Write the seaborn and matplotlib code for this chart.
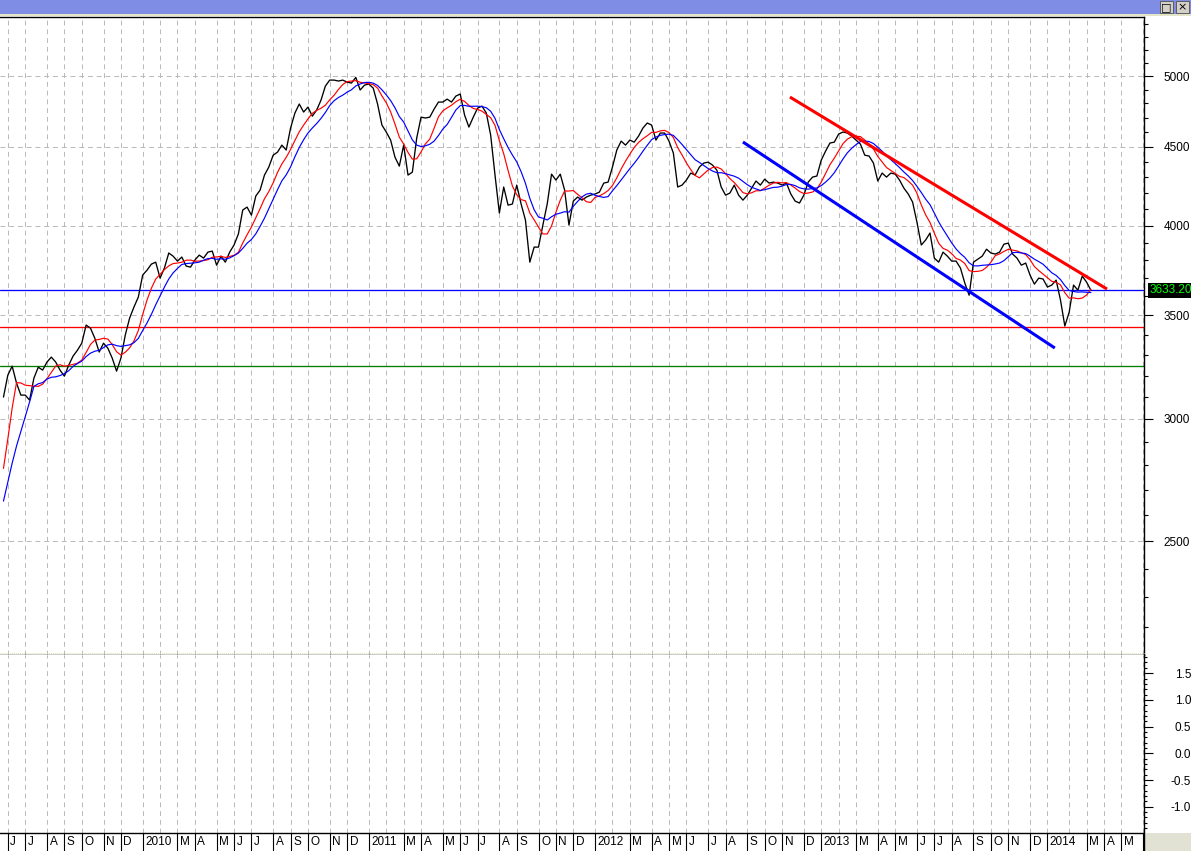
import numpy as np
import pandas as pd
import matplotlib
matplotlib.use("Agg")
import matplotlib.pyplot as plt
import matplotlib.transforms as mtransforms
from matplotlib.patches import Rectangle
from matplotlib.lines import Line2D
from matplotlib.ticker import FixedLocator, FixedFormatter, NullFormatter, MultipleLocator
import seaborn as sns

# ------------------------------------------------------------------ data
start_date = "2009-05-29"          # first weekly bar (Friday)
holiday_bars = ["2010-01-01"]      # bar dated on previous trading day

closes = [
    3099, 3202, 3245, 3164, 3108, 3108, 3085, 3188, 3240, 3226,
    3265, 3289, 3265, 3226, 3197, 3250, 3294, 3323, 3358, 3450,
    3434, 3383, 3314, 3358, 3333, 3284, 3221, 3284, 3399, 3486,
    3544, 3597, 3717, 3744, 3778, 3789, 3700, 3756, 3841, 3823,
    3795, 3818, 3767, 3761, 3801, 3829, 3812, 3846, 3852, 3772,
    3823, 3789, 3846, 3887, 3951, 4095, 4113, 4064, 4181, 4219,
    4314, 4366, 4444, 4464, 4511, 4478, 4627, 4732, 4796, 4739,
    4774, 4710, 4753, 4824, 4926, 4970, 4970, 4963, 4970, 4955,
    4948, 4990, 4897, 4933, 4941, 4911, 4796, 4648, 4600, 4545,
    4431, 4372, 4511, 4314, 4333, 4559, 4703, 4697, 4703, 4760,
    4810, 4810, 4831, 4810, 4853, 4868, 4718, 4634, 4703, 4767,
    4781, 4732, 4579, 4314, 4077, 4238, 4125, 4132, 4250, 4132,
    4034, 3789, 3875, 3875, 4004, 4132, 4320, 4282, 4320, 4219,
    4004, 4150, 4175, 4156, 4175, 4187, 4194, 4206, 4263, 4269,
    4366, 4478, 4538, 4511, 4545, 4531, 4572, 4627, 4662, 4648,
    4545, 4593, 4593, 4538, 4458, 4238, 4250, 4282, 4327, 4314,
    4366, 4392, 4398, 4379, 4346, 4238, 4187, 4200, 4250, 4187,
    4156, 4187, 4231, 4276, 4250, 4288, 4263, 4269, 4263, 4250,
    4263, 4194, 4150, 4138, 4187, 4269, 4301, 4308, 4411, 4471,
    4525, 4531, 4586, 4600, 4593, 4572, 4545, 4518, 4444, 4438,
    4392, 4276, 4327, 4301, 4327, 4320, 4282, 4231, 4194, 4144,
    4022, 3887, 3916, 3957, 3812, 3789, 3846, 3823, 3795, 3795,
    3756, 3673, 3607, 3789, 3806, 3823, 3863, 3841, 3835, 3846,
    3892, 3898, 3835, 3812, 3772, 3784, 3717, 3667, 3700, 3695,
    3651, 3662, 3689, 3581, 3445, 3517, 3662, 3634, 3711, 3678,
    3633.2,
]
# closes of the weeks just before the visible window (they feed the averages)
prior_closes = [2430, 2470, 2440, 2480, 2450, 2420, 2460, 3120, 3170]
fast_ma_weeks = 6
slow_ma_weeks = 10

last_price = 3633.20
level_values = [3633.20, 3442, 3248]
level_colors = ["#0000FF", "#FF0000", "#008000"]

upper_trend_weeks = [180.8, 253.7]
upper_trend_values = [4846, 3640]
lower_trend_weeks = [170.0, 241.7]
lower_trend_values = [4532, 3334]

main_ticks = [2500, 3000, 3500, 4000, 4500, 5000]
main_tick_labels = ["2500", "3000", "3500", "4000", "4500", "5000"]
low_ticks = [-1.0, -0.5, 0.0, 0.5, 1.0, 1.5]
low_tick_labels = ["-1.0", "-0.5", "0.0", "0.5", "1.0", "1.5"]
month_initials = ["J", "F", "M", "A", "M", "J", "J", "A", "S", "O", "N", "D"]

# ------------------------------------------------------------ derived
n = len(closes)
weeks = np.arange(n)
full = pd.Series(prior_closes + closes, dtype=float)
fast = full.rolling(fast_ma_weeks).mean().iloc[len(prior_closes):].to_numpy()
slow = full.rolling(slow_ma_weeks).mean().iloc[len(prior_closes):].to_numpy()
df = pd.DataFrame({"week": weeks, "close": closes, "fast": fast, "slow": slow})

n_axis = 263
axis_dates = pd.date_range(start_date, periods=n_axis, freq="W-FRI")
hol = set(pd.to_datetime(holiday_bars))
bar_dates = pd.DatetimeIndex([d - pd.Timedelta(days=1) if d in hol else d for d in axis_dates])
mkey = bar_dates.year * 12 + bar_dates.month
month_starts = [i for i in range(1, n_axis) if mkey[i] != mkey[i - 1]]
label_pos, label_txt = [], []
for i in month_starts:
    m = bar_dates[i].month
    if m == 2:
        continue
    label_pos.append(i)
    label_txt.append(str(bar_dates[i].year) if m == 1 else month_initials[m - 1])

# ------------------------------------------------------------ styling
sns.set_style("white")
plt.rcParams["font.family"] = ["Liberation Sans", "DejaVu Sans"]

W, H = 1191, 851
fig = plt.figure(figsize=(W / 100, H / 100), dpi=100, facecolor="white")


def fy(p):
    return 1 - p / H


ax = fig.add_axes([0, fy(655), 1144 / W, (655 - 17) / H])
axl = fig.add_axes([0, fy(833), 1144 / W, (833 - 655) / H])
for a in (ax, axl):
    a.set_facecolor("white")

XMIN, XMAX = -0.8, 262.2
grid_kw = dict(color="#B8B8B8", linestyle=(0, (5, 4)), linewidth=0.7)

# ---------------------------------------------------------- main panel
ax.set_yscale("log")
for i in month_starts:
    ax.axvline(i, zorder=0.5, **grid_kw)
    axl.axvline(i, zorder=0.5, **grid_kw)

for v, c in zip(level_values, level_colors):
    ax.axhline(v, color=c, linewidth=0.95, zorder=2)

sns.lineplot(data=df, x="week", y="close", ax=ax, color="black", linewidth=0.95, zorder=4, legend=False)
sns.lineplot(data=df, x="week", y="fast", ax=ax, color="#FF0000", linewidth=0.85, zorder=5, legend=False)
sns.lineplot(data=df, x="week", y="slow", ax=ax, color="#0000FF", linewidth=0.85, zorder=5, legend=False)

ax.plot(upper_trend_weeks, upper_trend_values, color="#FF0000", linewidth=2.2, zorder=6, solid_capstyle="butt")
ax.plot(lower_trend_weeks, lower_trend_values, color="#0000FF", linewidth=2.2, zorder=6, solid_capstyle="butt")

ax.set_xlim(XMIN, XMAX)
ax.set_ylim(2110, 5460)
ax.set_xlabel("")
ax.set_ylabel("")

ax.yaxis.tick_right()
ax.yaxis.set_major_locator(FixedLocator(main_ticks))
ax.yaxis.set_major_formatter(FixedFormatter(main_tick_labels))
ax.yaxis.set_minor_locator(MultipleLocator(100))
ax.yaxis.set_minor_formatter(NullFormatter())
ax.tick_params(axis="y", which="major", direction="out", length=6.5, width=0.8,
               labelsize=8.5, pad=7.5, colors="black", right=True, left=False)
ax.tick_params(axis="y", which="minor", direction="out", length=3.0, width=0.8,
               colors="black", right=True, left=False)
ax.tick_params(axis="x", which="both", bottom=False, top=False, labelbottom=False)
ax.yaxis.grid(True, which="major", **grid_kw)
ax.xaxis.grid(False)
ax.set_axisbelow(True)

for s in ("top", "bottom", "right"):
    ax.spines[s].set_color("black")
    ax.spines[s].set_linewidth(1.0)
    ax.spines[s].set_visible(True)
ax.spines["left"].set_visible(False)

tag_tr = mtransforms.blended_transform_factory(ax.transAxes, ax.transData)
ax.text(1.0 + 6 / 1144, last_price, f"{last_price:.2f}", transform=tag_tr,
        ha="left", va="center", color="#00FF00", fontsize=8.5,
        bbox=dict(boxstyle="square,pad=0.15", fc="black", ec="none"),
        clip_on=False, zorder=20)

# --------------------------------------------------------- lower panel
axl.set_xlim(XMIN, XMAX)
axl.set_ylim(-1.49, 1.84)
axl.yaxis.tick_right()
axl.yaxis.set_major_locator(FixedLocator(low_ticks))
axl.yaxis.set_major_formatter(FixedFormatter(low_tick_labels))
axl.yaxis.set_minor_locator(MultipleLocator(0.1))
axl.yaxis.set_minor_formatter(NullFormatter())
axl.tick_params(axis="y", which="major", direction="out", length=6.5, width=0.8,
                labelsize=8.5, pad=27.5, colors="black", right=True, left=False)
axl.tick_params(axis="y", which="minor", direction="out", length=2.5, width=0.8,
                colors="black", right=True, left=False)
for lab in axl.get_yticklabels():
    lab.set_horizontalalignment("right")

axl.set_xticks(label_pos)
axl.set_xticklabels([""] * len(label_pos))
axl.tick_params(axis="x", which="major", direction="out", length=13, width=0.8,
                bottom=True, top=False, labelbottom=False, colors="black")
axl.grid(False)
for s in ("bottom", "right"):
    axl.spines[s].set_color("black")
    axl.spines[s].set_linewidth(1.0)
    axl.spines[s].set_visible(True)
axl.spines["left"].set_visible(False)
axl.spines["top"].set_visible(False)

lbl_tr = mtransforms.offset_copy(
    mtransforms.blended_transform_factory(axl.transData, axl.transAxes),
    fig=fig, x=2.5, y=0, units="dots")
for pos, txt in zip(label_pos, label_txt):
    axl.text(pos, -9 / 178, txt, transform=lbl_tr, ha="left", va="center",
             fontsize=8.5, color="black", clip_on=False)

# ------------------------------------------------------- window chrome
fig.patches.append(Rectangle((0, fy(14)), 1, 14 / H, transform=fig.transFigure,
                             fc="#7F8DE4", ec="none", zorder=0))
fig.patches.append(Rectangle((0, fy(16)), 1, 2 / H, transform=fig.transFigure,
                             fc="#E4E4C8", ec="none", zorder=0))
fig.patches.append(Rectangle((1145 / W, 0), 46 / W, 18 / H, transform=fig.transFigure,
                             fc="#E2E2D4", ec="none", zorder=0))
fig.lines.append(Line2D([1144 / W, 1144 / W], [fy(833), fy(851)], transform=fig.transFigure,
                        color="black", linewidth=1.0))
fig.lines.append(Line2D([0, 1144 / W], [fy(652.5), fy(652.5)], transform=fig.transFigure,
                        color="#E0E0B8", linewidth=0.7, linestyle=(0, (1, 1))))
for x0, glyph in ((1160, "\u25a1"), (1176, "\u00d7")):
    fig.patches.append(Rectangle((x0 / W, fy(13)), 13 / W, 12 / H, transform=fig.transFigure,
                                 fc="#D4D0C8", ec="#505050", linewidth=0.6, zorder=1))
    fig.text((x0 + 6.5) / W, fy(7.5), glyph, ha="center", va="center", fontsize=8,
             color="black", zorder=2, family=["DejaVu Sans"])

fig.savefig("out.png", dpi=100, facecolor=fig.get_facecolor())
